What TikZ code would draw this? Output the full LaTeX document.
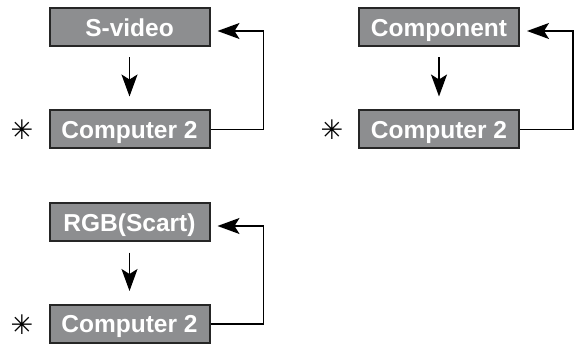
\documentclass[tikz,border=0pt]{standalone}
\usepackage{fontspec}
\setmainfont{Liberation Sans}
\newfontfamily\symfont{DejaVu Sans}
\usetikzlibrary{arrows.meta}

\tikzset{
  modebox/.style={draw=black!85, line width=2pt, fill=modegray, text=white,
    font=\fontsize{24.5}{26}\selectfont\bfseries,
    text height=17.6pt, text depth=0pt,
    minimum width=160pt, minimum height=38pt, inner sep=0pt},
  flow/.style={line width=1.4pt, -{Stealth[length=22pt,width=16pt,inset=5pt]}},
  starmark/.style={font=\symfont\fontsize{27}{28}\selectfont, inner sep=0pt}
}
\definecolor{modegray}{HTML}{8D8E90}

\begin{document}
\begin{tikzpicture}[x=1pt, y=-1pt]
\useasboundingbox (0,0) rectangle (577,344);

% nodes
\node[modebox] (sv)  at (129.5, 27.5)  {S-video};
\node[modebox] (c2a) at (129.5, 129.5) {Computer 2};
\node[modebox] (cp)  at (439, 27.5)    {Component};
\node[modebox] (c2b) at (439, 129.5)   {Computer 2};
\node[modebox] (rgb) at (129.5, 222.5) {RGB(Scart)};
\node[modebox] (c2c) at (129.5, 324)   {Computer 2};

% asterisks
\node[starmark] (sa) at (22, 130)  {✳};
\node[starmark] (sb) at (332, 130) {✳};
\node[starmark] (sc) at (22, 325)  {✳};

% arrows
\draw[flow, shorten <=10pt, shorten >=13pt] (sv) -- (c2a);
\draw[flow, shorten <=10pt, shorten >=13pt] (cp) -- (c2b);
\draw[flow, shorten <=10pt, shorten >=13pt] (rgb) -- (c2c);

\draw[flow, shorten >=7pt] (c2a.east) -- ++(53,0) |- ([yshift=-3.5pt]sv.east);
\draw[flow, shorten >=7pt] (c2b.east) -- ++(53,0) |- ([yshift=-3.5pt]cp.east);
\draw[flow, shorten >=7pt] (c2c.east) -- ++(53,0) |- ([yshift=-3.5pt]rgb.east);

\end{tikzpicture}
\end{document}
